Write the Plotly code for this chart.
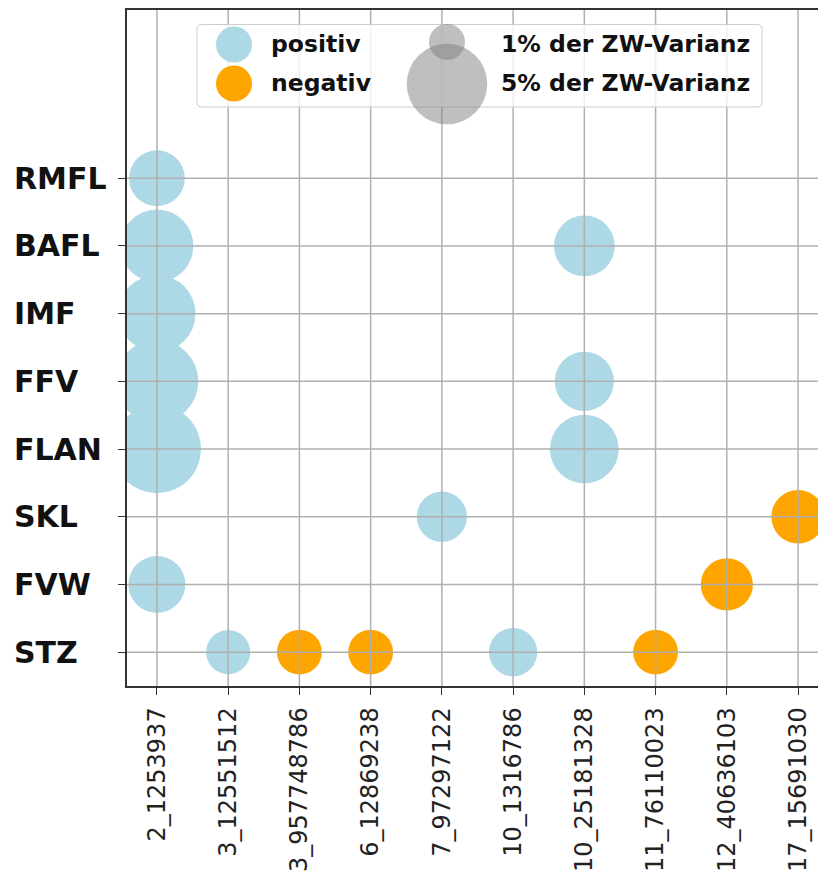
import numpy as np
import plotly.graph_objects as go

# ---------------- data ----------------
snp_labels = ["2_1253937", "3_12551512", "3_957748786", "6_12869238", "7_97297122",
              "10_1316786", "10_25181328", "11_76110023", "12_40636103", "17_15691030"]
trait_labels = ["RMFL", "BAFL", "IMF", "FFV", "FLAN", "SKL", "FVW", "STZ"]  # top -> bottom

point_snp = ["2_1253937", "2_1253937", "2_1253937", "2_1253937", "2_1253937", "2_1253937",
             "3_12551512", "3_957748786", "6_12869238", "7_97297122", "10_1316786",
             "10_25181328", "10_25181328", "10_25181328", "11_76110023", "12_40636103",
             "17_15691030"]
point_trait = ["RMFL", "BAFL", "IMF", "FFV", "FLAN", "FVW",
               "STZ", "STZ", "STZ", "SKL", "STZ",
               "BAFL", "FFV", "FLAN", "STZ", "FVW",
               "SKL"]
point_pct = [2.4, 4.1, 4.6, 5.3, 6.0, 2.5,
             1.5, 1.55, 1.55, 1.95, 1.8,
             2.85, 2.7, 3.65, 1.55, 2.1,
             2.2]
point_effect = ["positiv", "positiv", "positiv", "positiv", "positiv", "positiv",
                "positiv", "negativ", "negativ", "positiv", "positiv",
                "positiv", "positiv", "positiv", "negativ", "negativ",
                "negativ"]

effect_names = ["positiv", "negativ"]
effect_colors = {"positiv": "#ADD8E6", "negativ": "#FFA500"}
legend_pcts = [1, 5]
legend_texts = ["1% der ZW-Varianz", "5% der ZW-Varianz"]

# ---------------- layout constants ----------------
W, H = 818, 880
ML, MR, MT, MB = 127, 0, 10, 194
PW, PH = W - ML - MR, H - MT - MB
SIZEREF = 2.0 / 36.0 ** 2  # 1 % -> 36 px diameter (area scaling)


def px2paper(px, py):
    return (px - ML) / PW, (H - MB - py) / PH


def diam(pct):
    return float(np.sqrt(2.0 * pct / SIZEREF))


fig = go.Figure()
for eff in effect_names:
    idx = [i for i, e in enumerate(point_effect) if e == eff]
    fig.add_trace(go.Scatter(
        x=[point_snp[i] for i in idx],
        y=[point_trait[i] for i in idx],
        mode="markers",
        name=eff,
        marker=dict(size=[point_pct[i] for i in idx], sizemode="area", sizeref=SIZEREF,
                    color=effect_colors[eff], opacity=1, line=dict(width=0)),
        cliponaxis=True,
        showlegend=False,
    ))

shapes = []
grid = dict(color="#b0b0b0", width=1.5)
for s in snp_labels:
    shapes.append(dict(type="line", xref="x", yref="y domain", x0=s, x1=s, y0=0, y1=1,
                       line=grid, layer="above"))
for t in trait_labels:
    shapes.append(dict(type="line", xref="x domain", yref="y", x0=0, x1=1, y0=t, y1=t,
                       line=grid, layer="above"))

# legend box (rounded)
bx0, by0 = px2paper(197, 107)
bx1, by1 = px2paper(762, 24.5)
rx, ry = 5 / PW, 5 / PH
path = (f"M {bx0+rx},{by0} L {bx1-rx},{by0} Q {bx1},{by0} {bx1},{by0+ry} "
        f"L {bx1},{by1-ry} Q {bx1},{by1} {bx1-rx},{by1} L {bx0+rx},{by1} "
        f"Q {bx0},{by1} {bx0},{by1-ry} L {bx0},{by0+ry} Q {bx0},{by0} {bx0+rx},{by0} Z")
shapes.append(dict(type="path", xref="paper", yref="paper", path=path,
                   fillcolor="rgba(255,255,255,0.8)", line=dict(color="#cccccc", width=1),
                   layer="above"))


def circle(cx, cy, d, color):
    ax, ay = px2paper(cx, cy)
    r = d / 2
    return dict(type="circle", xref="paper", yref="paper", xsizemode="pixel", ysizemode="pixel",
                xanchor=ax, yanchor=ay, x0=-r, x1=r, y0=-r, y1=r,
                fillcolor=color, line=dict(width=0), layer="above")


legend_rows_y = [44.5, 83.5]
for eff, yy in zip(effect_names, legend_rows_y):
    shapes.append(circle(234, yy, diam(legend_pcts[0]), effect_colors[eff]))
for pct, yy in zip(legend_pcts, [42, 84]):
    shapes.append(circle(447, yy, diam(pct), "rgba(128,128,128,0.5)"))

annotations = []
lfont = dict(family="DejaVu Sans", size=23.5, color="#111111", weight="bold")
for eff, yy in zip(effect_names, legend_rows_y):
    ax, ay = px2paper(269, yy)
    annotations.append(dict(x=ax, y=ay, xref="paper", yref="paper", text=eff, showarrow=False,
                            xanchor="left", yanchor="middle", font=lfont))
for txt, yy in zip(legend_texts, legend_rows_y):
    ax, ay = px2paper(499, yy)
    annotations.append(dict(x=ax, y=ay, xref="paper", yref="paper", text=txt, showarrow=False,
                            xanchor="left", yanchor="middle", font=lfont))

# left-aligned y tick labels
ylab_x, _ = px2paper(12, 0)
yfont = dict(family="DejaVu Sans", size=30, color="#111111", weight="bold")
for t in trait_labels:
    annotations.append(dict(x=ylab_x, y=t, xref="paper", yref="y", text=t, showarrow=False,
                            xanchor="left", yanchor="middle", font=yfont))

fig.update_layout(
    width=W, height=H,
    margin=dict(l=ML, r=MR, t=MT, b=MB, pad=0),
    paper_bgcolor="white", plot_bgcolor="white",
    shapes=shapes, annotations=annotations,
    xaxis=dict(type="category", categoryorder="array", categoryarray=snp_labels,
               range=[-0.42, 9.28], showgrid=False, zeroline=False,
               showline=True, mirror=True, linecolor="#333333", linewidth=1.5,
               ticks="outside", ticklen=7, tickwidth=1.2, tickcolor="#333333",
               tickangle=-90, ticklabelstandoff=3, automargin=False,
               tickfont=dict(family="DejaVu Sans", size=24, color="#222222")),
    yaxis=dict(type="category", categoryorder="array", categoryarray=trait_labels[::-1],
               range=[-0.5, 9.485], showgrid=False, zeroline=False,
               showline=True, mirror=False, linecolor="#333333", linewidth=1.5,
               ticks="outside", ticklen=7, tickwidth=1.2, tickcolor="#333333",
               showticklabels=False, automargin=False),
)

fig.write_html("out.html", config={"displayModeBar": False},
               post_script="document.body.style.margin='0';document.body.style.overflow='hidden';")
